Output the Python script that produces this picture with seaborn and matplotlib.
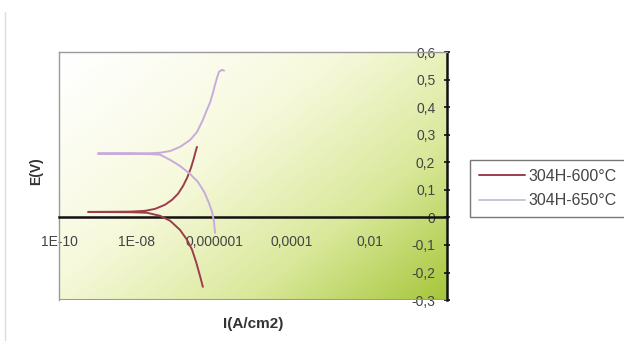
import numpy as np
import pandas as pd
import matplotlib
matplotlib.use("Agg")
import matplotlib.pyplot as plt
from matplotlib.colors import LinearSegmentedColormap
import seaborn as sns

# current density (A/cm2) and potential (V)
i_600 = [5.1e-07, 4.3e-07, 3.4e-07, 2.68e-07, 1.99e-07, 1.31e-07, 7.3e-08, 4.0e-08, 1.85e-08,
         6.8e-09, 5.6e-10, 6.8e-09,
         1.64e-08, 2.98e-08, 5.4e-08, 8.2e-08, 1.17e-07, 1.57e-07, 1.99e-07, 2.52e-07,
         3.0e-07, 3.4e-07, 3.6e-07]
e_600 = [-0.252, -0.212, -0.161, -0.117, -0.081, -0.045, -0.012, 0.006, 0.017,
         0.019, 0.020, 0.021,
         0.024, 0.031, 0.046, 0.064, 0.086, 0.114, 0.143, 0.180,
         0.216, 0.245, 0.256]

i_650 = [1.05e-06, 9.9e-07, 8.8e-07, 7.3e-07, 5.5e-07, 3.8e-07, 2.38e-07, 1.31e-07, 7.3e-08,
         4.0e-08, 2.2e-08, 6.8e-09, 1.0e-09, 6.8e-09, 2.2e-08,
         4.0e-08, 7.3e-08, 1.31e-07, 2.38e-07, 3.6e-07, 5.1e-07, 6.5e-07, 7.8e-07,
         9.3e-07, 1.05e-06, 1.18e-06, 1.33e-06, 1.59e-06, 1.79e-06]
e_650 = [-0.056, -0.016, 0.020, 0.053, 0.093, 0.129, 0.158, 0.187, 0.209,
         0.228, 0.230, 0.231, 0.232, 0.233, 0.233,
         0.235, 0.241, 0.256, 0.281, 0.310, 0.354, 0.391, 0.417,
         0.453, 0.482, 0.507, 0.529, 0.536, 0.533]

labels = ["304H-600°C", "304H-650°C"]
colors = ["#9c3d4c", "#c7acdb"]

x_ticks = [1e-10, 1e-8, 1e-6, 1e-4, 1e-2, 1]
x_labels = ["1E-10", "1E-08", "0,000001", "0,0001", "0,01", ""]
y_ticks = [-0.3, -0.2, -0.1, 0, 0.1, 0.2, 0.3, 0.4, 0.5, 0.6]
y_labels = ["-0,3", "-0,2", "-0,1", "0", "0,1", "0,2", "0,3", "0,4", "0,5", "0,6"]

df = pd.concat([
    pd.DataFrame({"I": i_600, "E": e_600, "serie": labels[0]}),
    pd.DataFrame({"I": i_650, "E": e_650, "serie": labels[1]}),
])

sns.set_style("white")
plt.rcParams["font.family"] = ["Liberation Sans", "DejaVu Sans"]

fig = plt.figure(figsize=(6.24, 3.41), dpi=100)
ax = fig.add_axes([0.0945, 0.12, 0.622, 0.727])

# gradient background white -> yellow green
cmap = LinearSegmentedColormap.from_list("bg", ["#ffffff", "#f7f9dc", "#d9e89a", "#a6c63a"])
u, v = np.meshgrid(np.linspace(0, 1, 200), np.linspace(1, 0, 200))
t = np.clip((u + 0.8 * (1 - v)) / 1.8, 0, 1) ** 1.2
ax.imshow(t, cmap=cmap, extent=[0, 1, 0, 1], transform=ax.transAxes,
          aspect="auto", zorder=0, vmin=0, vmax=1)

for lab, col in zip(labels, colors):
    sub = df[df["serie"] == lab]
    sns.lineplot(x=sub["I"].values, y=sub["E"].values, color=col, sort=False,
                 estimator=None, ax=ax, linewidth=1.4, label=lab, zorder=3)

ax.set_xscale("log")
ax.set_xlim(1e-10, 1)
ax.set_ylim(-0.3, 0.6)
ax.set_xticks(x_ticks)
ax.set_xticklabels(x_labels)
ax.xaxis.set_minor_locator(matplotlib.ticker.NullLocator())
ax.set_yticks(y_ticks)
ax.set_yticklabels(y_labels)

for s in ["left", "top"]:
    ax.spines[s].set_color("#9a9a9a")
    ax.spines[s].set_linewidth(1.0)
ax.spines["right"].set_color("#111111")
ax.spines["right"].set_linewidth(1.8)
ax.spines["bottom"].set_position(("data", 0))
ax.spines["bottom"].set_color("#111111")
ax.spines["bottom"].set_linewidth(1.8)
ax.axhline(-0.3, color="#9a9a9a", linewidth=1.5, zorder=2)

ax.yaxis.set_ticks_position("right")
ax.tick_params(axis="y", direction="inout", length=5, width=1.2, color="#111111",
               labelsize=10, labelcolor="#444444", pad=-11)
for lab in ax.get_yticklabels():
    lab.set_horizontalalignment("right")
ax.tick_params(axis="x", direction="out", length=3, width=1.2, color="#111111",
               labelsize=10, labelcolor="#444444", pad=10)

ax.set_xlabel("I(A/cm2)", fontsize=11, fontweight="bold", color="#333333")
ax.xaxis.set_label_coords(0.5, -0.07)
ax.set_ylabel("E(V)", fontsize=10, fontweight="bold", color="#333333")
ax.yaxis.set_label_position("left")
ax.yaxis.set_label_coords(-0.04, 0.52)

leg = ax.legend(loc="upper left", bbox_to_anchor=(1.059, 0.565), frameon=True,
                fancybox=False, fontsize=11.5, handlelength=2.9, handletextpad=0.2,
                borderpad=0.55, labelspacing=0.6, borderaxespad=0)
leg.get_frame().set_edgecolor("#555555")
leg.get_frame().set_linewidth(1.0)
for txt in leg.get_texts():
    txt.set_color("#444444")
leg.get_lines()[1].set_color("#c8c4d0")

fig.add_artist(plt.Line2D([0.008, 0.008], [0.0, 0.965], color="#dddddd", linewidth=1.0))

fig.savefig("out.png", dpi=100)
